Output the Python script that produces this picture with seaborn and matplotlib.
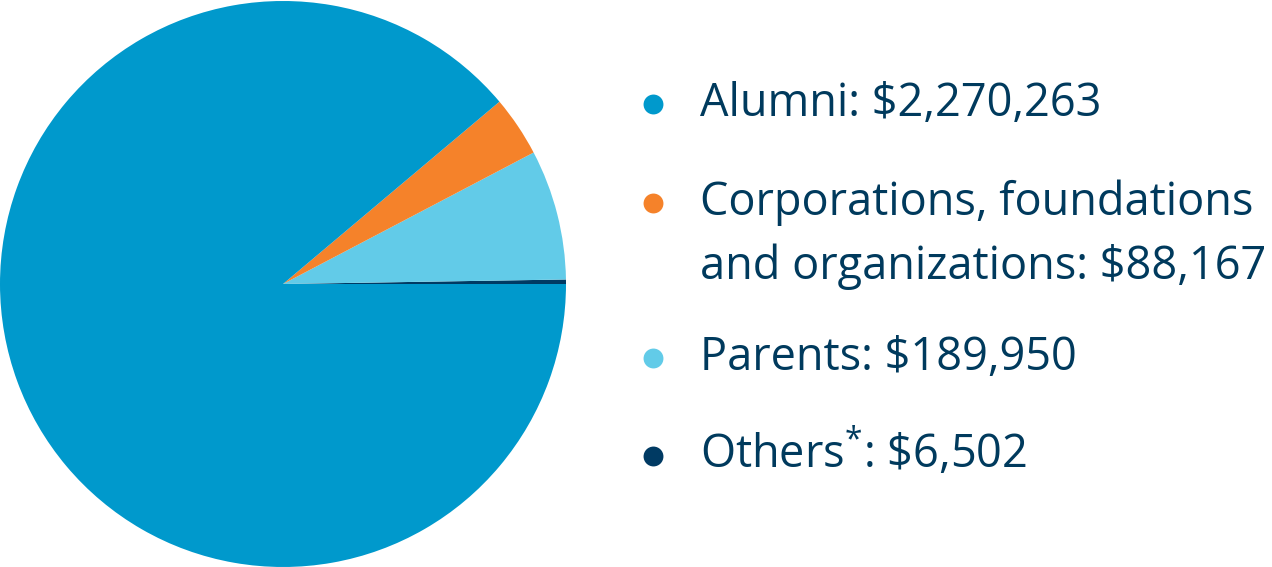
import matplotlib.pyplot as plt
import seaborn as sns

# gift sources and amounts
sources = ["Alumni", "Corporations, foundations\nand organizations", "Parents", "Others$^{*}$"]
amounts = [2270263, 88167, 189950, 6502]
colors = ["#0099CC", "#F5822A", "#62CBE8", "#003A63"]
text_color = "#003A5D"

sns.set_theme(style="white")
plt.rcParams["font.family"] = ["Open Sans", "DejaVu Sans"]
plt.rcParams["mathtext.fontset"] = "custom"
plt.rcParams["mathtext.rm"] = "Open Sans"
plt.rcParams["mathtext.it"] = "Open Sans"
plt.rcParams["mathtext.bf"] = "Open Sans"

fig = plt.figure(figsize=(12.72, 5.67), dpi=100)

# pie: drawn counter-clockwise from 3 o'clock, smallest slices first
order = [3, 2, 1, 0]
ax = fig.add_axes([0, 0, 566 / 1272, 566 / 567])
ax.pie([amounts[i] for i in order], colors=[colors[i] for i in order],
       startangle=0, counterclock=True, radius=1,
       wedgeprops={"linewidth": 0})
ax.set_xlim(-1, 1)
ax.set_ylim(-1, 1)
ax.set_aspect("equal")
ax.axis("off")

# legend on the right, in pixel coordinates
lg = fig.add_axes([0, 0, 1, 1])
lg.set_xlim(0, 1272)
lg.set_ylim(567, 0)
lg.axis("off")

baselines = [116, 215, 370, 468]
for i, (src, amt) in enumerate(zip(sources, amounts)):
    y = baselines[i]
    lg.scatter([653], [y - 12], s=205, color=colors[i], linewidths=0)
    lines = f"{src}: \\${amt:,}".split("\n")
    for j, line in enumerate(lines):
        lg.text(700, y + j * 64, line, fontsize=32.5, color=text_color,
                va="baseline", ha="left")

fig.savefig("out.png", dpi=100)
